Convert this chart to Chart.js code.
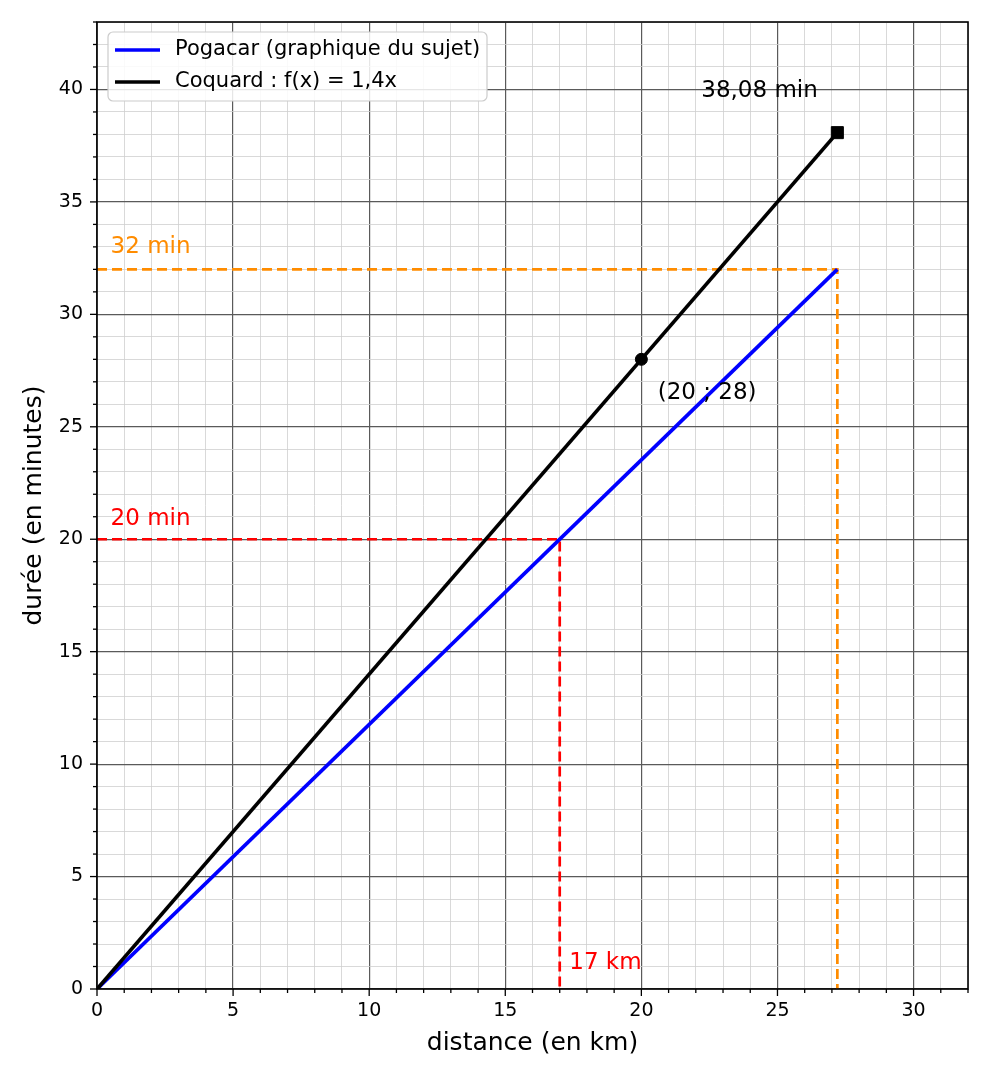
<!DOCTYPE html>
<html>
<head>
<meta charset="utf-8">
<script src="https://cdn.jsdelivr.net/npm/chart.js@4.4.0/dist/chart.umd.min.js"></script>
<style>
  body { margin: 0; background: #fff; }
  #wrap { width: 990px; height: 1080px; position: relative; }
</style>
</head>
<body>
<div id="wrap"><canvas id="myChart"></canvas></div>
<script>
// data
var pogacarX = [0, 27.2];
var pogacarY = [0, 32];
var coquardX = [0, 27.2];
var coquardY = [0, 38.08];
var pointX = [20];
var pointY = [28];
var endX = [27.2];
var endY = [38.08];
var redX = [0, 17, 17];
var redY = [20, 20, 0];
var orangeX = [0, 27.2, 27.2];
var orangeY = [32, 32, 0];

var xTickLabels = [0, 5, 10, 15, 20, 25, 30];
var yTickLabels = [0, 5, 10, 15, 20, 25, 30, 35, 40];

var labels = ['38,08 min', '(20 ; 28)', '32 min', '20 min', '17 km'];
var labelX = [22.2, 20.6, 0.5, 0.5, 17.35];
var labelY = [39.95, 26.5, 33.0, 20.9, 1.15];
var labelColor = ['#000000', '#000000', '#ff8c00', '#ff0000', '#ff0000'];

function toPoints(xs, ys) {
  var pts = [];
  for (var i = 0; i < xs.length; i++) pts.push({x: xs[i], y: ys[i]});
  return pts;
}

Chart.defaults.font.family = 'DejaVu Sans';
Chart.defaults.color = '#000';

// outward ticks (long on multiples of 5) + box around plot
var axesPlugin = {
  id: 'axesPlugin',
  afterDraw: function (chart) {
    var ctx = chart.ctx;
    var area = chart.chartArea;
    var xs = chart.scales.x, ys = chart.scales.y;
    ctx.save();
    ctx.strokeStyle = '#000';
    ctx.lineWidth = 1.3;
    xs.ticks.forEach(function (t) {
      var px = xs.getPixelForValue(t.value);
      var len = t.value % 5 === 0 ? 7 : 4;
      ctx.beginPath();
      ctx.moveTo(px, area.bottom);
      ctx.lineTo(px, area.bottom + len);
      ctx.stroke();
    });
    ys.ticks.forEach(function (t) {
      var py = ys.getPixelForValue(t.value);
      var len = t.value % 5 === 0 ? 7 : 4;
      ctx.beginPath();
      ctx.moveTo(area.left, py);
      ctx.lineTo(area.left - len, py);
      ctx.stroke();
    });
    ctx.lineWidth = 1.6;
    ctx.strokeRect(area.left, area.top, area.right - area.left, area.bottom - area.top);
    ctx.restore();
  }
};

// text annotations + legend box inside the plot
var notesPlugin = {
  id: 'notesPlugin',
  afterDatasetsDraw: function (chart) {
    var ctx = chart.ctx;
    var xs = chart.scales.x, ys = chart.scales.y;
    var area = chart.chartArea;
    ctx.save();
    ctx.font = '23px DejaVu Sans';
    ctx.textBaseline = 'middle';
    ctx.textAlign = 'left';
    for (var i = 0; i < labels.length; i++) {
      ctx.fillStyle = labelColor[i];
      ctx.fillText(labels[i], xs.getPixelForValue(labelX[i]), ys.getPixelForValue(labelY[i]));
    }

    // legend
    var bx = area.left + 11, by = area.top + 10, bw = 379, bh = 69, r = 5;
    ctx.beginPath();
    ctx.moveTo(bx + r, by);
    ctx.arcTo(bx + bw, by, bx + bw, by + bh, r);
    ctx.arcTo(bx + bw, by + bh, bx, by + bh, r);
    ctx.arcTo(bx, by + bh, bx, by, r);
    ctx.arcTo(bx, by, bx + bw, by, r);
    ctx.closePath();
    ctx.fillStyle = 'rgba(255,255,255,0.85)';
    ctx.fill();
    ctx.strokeStyle = '#cccccc';
    ctx.lineWidth = 1.2;
    ctx.stroke();

    var items = [chart.data.datasets[2], chart.data.datasets[1]];
    ctx.font = '21px DejaVu Sans';
    for (var j = 0; j < items.length; j++) {
      var yy = by + 18 + j * 32;
      ctx.strokeStyle = items[j].borderColor;
      ctx.lineWidth = 3.5;
      ctx.beginPath();
      ctx.moveTo(bx + 7, yy);
      ctx.lineTo(bx + 52, yy);
      ctx.stroke();
      ctx.fillStyle = '#000';
      ctx.fillText(items[j].label, bx + 67, yy);
    }
    ctx.restore();
  }
};

function gridColor(c) {
  return c.tick && c.tick.value % 5 === 0 ? '#5a5a5a' : '#cfcfcf';
}
function gridWidth(c) {
  return c.tick && c.tick.value % 5 === 0 ? 1.2 : 0.8;
}

var ctx = document.getElementById('myChart');
var myChart = new Chart(ctx, {
  type: 'line',
  data: {
    datasets: [
      {
        label: 'point',
        data: toPoints(pointX, pointY),
        borderColor: '#000', backgroundColor: '#000',
        showLine: false, pointRadius: 6, pointStyle: 'circle'
      },
      {
        label: 'Coquard : f(x) = 1,4x',
        data: toPoints(coquardX, coquardY),
        borderColor: '#000000', borderWidth: 3.7, pointRadius: 0
      },
      {
        label: 'Pogacar (graphique du sujet)',
        data: toPoints(pogacarX, pogacarY),
        borderColor: '#0000ff', borderWidth: 3.7, pointRadius: 0
      },
      {
        label: 'fin',
        data: toPoints(endX, endY),
        borderColor: '#000', backgroundColor: '#000',
        showLine: false, pointRadius: 8.5, pointStyle: 'rect'
      },
      {
        label: 'orange',
        data: toPoints(orangeX, orangeY),
        borderColor: '#ff8c00', borderWidth: 2.7, borderDash: [10, 5], pointRadius: 0
      },
      {
        label: 'red',
        data: toPoints(redX, redY),
        borderColor: '#ff0000', borderWidth: 2.7, borderDash: [10, 5], pointRadius: 0
      }
    ]
  },
  options: {
    responsive: true,
    maintainAspectRatio: false,
    animation: false,
    layout: { padding: { top: 22, right: 22, left: 0, bottom: 0 } },
    plugins: { legend: { display: false }, tooltip: { enabled: false } },
    scales: {
      x: {
        type: 'linear', min: 0, max: 32,
        afterFit: function (s) { s.height = 91; s.paddingLeft = 0; s.paddingRight = 0; },
        ticks: {
          stepSize: 1, autoSkip: false, maxRotation: 0, padding: 11,
          font: { size: 19 },
          callback: function (v) { return xTickLabels.indexOf(v) >= 0 ? String(v) : ''; }
        },
        grid: { color: gridColor, lineWidth: gridWidth, drawTicks: false },
        border: { display: false },
        title: { display: true, text: 'distance (en km)', font: { size: 25 }, padding: { top: 0, bottom: 22 } }
      },
      y: {
        type: 'linear', min: 0, max: 43,
        afterFit: function (s) { s.width = 97; s.paddingTop = 0; s.paddingBottom = 0; },
        ticks: {
          stepSize: 1, autoSkip: false, padding: 14,
          font: { size: 19 },
          callback: function (v) { return yTickLabels.indexOf(v) >= 0 ? String(v) : ''; }
        },
        grid: { color: gridColor, lineWidth: gridWidth, drawTicks: false },
        border: { display: false },
        title: { display: true, text: 'durée (en minutes)', font: { size: 25 }, padding: { top: 19, bottom: 0 } }
      }
    }
  },
  plugins: [axesPlugin, notesPlugin]
});
</script>
</body>
</html>
